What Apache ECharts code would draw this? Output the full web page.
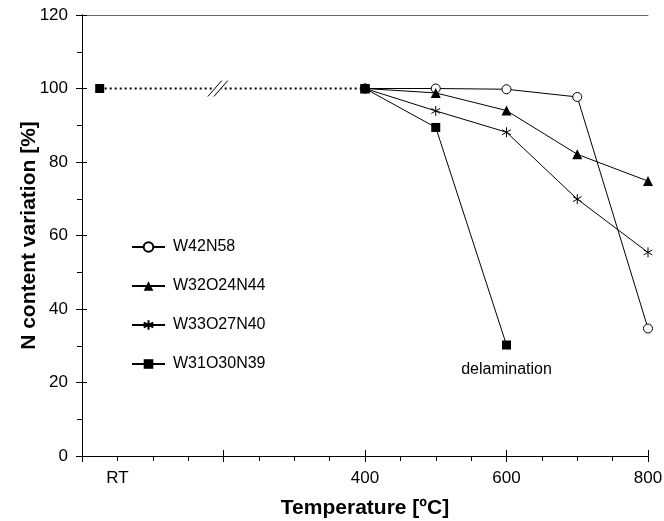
<!DOCTYPE html>
<html>
<head>
<meta charset="utf-8">
<script src="https://cdn.jsdelivr.net/npm/echarts@6/dist/echarts.min.js"></script>
<style>html,body{margin:0;padding:0;background:#fff}#c{width:664px;height:521px}</style>
</head>
<body>
<div id="c"></div>
<script>
// ---- data ----
var temps = [400, 500, 600, 700, 800];
var rtTemp = 25;
var rtValue = 100;
var w42n58 = [100, 100, 99.8, 97.7, 34.7];
var w32o24n44 = [100, 98.8, 94.0, 82.1, 74.8];
var w33o27n40 = [100, 93.9, 88.1, 69.9, 55.4];
var w31o30n39 = [100, 89.4, 30.2];
var seriesNames = ['W42N58', 'W32O24N44', 'W33O27N40', 'W31O30N39'];
var xTickLabels = {50: 'RT', 400: '400', 600: '600', 800: '800'};
var annotation = 'delamination';

var FONT = '"Liberation Sans", Arial, sans-serif';
var asteriskPath = 'path://M5,0L5,10M0.67,2.5L9.33,7.5M0.67,7.5L9.33,2.5';

function pairs(vals) { return vals.map(function (v, i) { return [temps[i], v]; }); }

var sqData = pairs(w31o30n39);
sqData[2] = {value: sqData[2], label: {show: true, formatter: annotation, position: 'bottom', distance: 12,
  color: '#000', fontSize: 16, fontFamily: FONT}};

var lineBase = {type: 'line', xAxisIndex: 0, yAxisIndex: 0, lineStyle: {color: '#000', width: 1},
  emphasis: {disabled: true}, animation: false};

var chart = echarts.init(document.getElementById('c'), null, {renderer: 'canvas'});
chart.setOption({
  animation: false,
  backgroundColor: '#fff',
  grid: {left: 82, right: 16, top: 15, bottom: 65, containLabel: false, outerBoundsMode: 'none'},
  legend: {
    data: seriesNames, orient: 'vertical', left: 131, top: 239, padding: 0,
    itemWidth: 33, itemHeight: 12, itemGap: 23,
    textStyle: {color: '#000', fontSize: 16, fontFamily: FONT, padding: [0, 0, 0, 3]},
    inactiveColor: '#000'
  },
  xAxis: [
    {type: 'value', position: 'bottom', min: 0, max: 800, interval: 200,
     axisLine: {show: true, lineStyle: {color: '#000', width: 1}},
     axisTick: {show: true, inside: false, length: 6, lineStyle: {color: '#000'}},
     minorTick: {show: true, splitNumber: 4, length: 5, lineStyle: {color: '#000'}},
     splitLine: {show: false}, minorSplitLine: {show: false},
     axisLabel: {margin: 14, color: '#000', fontSize: 17, fontFamily: FONT,
       formatter: function (v) { return (v === 400 || v === 600 || v === 800) ? xTickLabels[v] : ''; }},
     name: 'Temperature [ºC]', nameLocation: 'middle', nameGap: 42, nameMoveOverlap: false,
     nameTextStyle: {color: '#000', fontSize: 21, fontWeight: 'bold', fontFamily: FONT}},
    {type: 'value', position: 'bottom', min: 0, max: 800, interval: 200,
     axisLine: {show: false}, axisTick: {show: true, inside: true, length: 6, lineStyle: {color: '#000'}},
     axisLabel: {show: false}, splitLine: {show: false}},
    {type: 'value', position: 'bottom', min: 0, max: 800, interval: 50,
     axisLine: {show: false}, axisTick: {show: false}, splitLine: {show: false},
     axisLabel: {margin: 14, color: '#000', fontSize: 17, fontFamily: FONT,
       formatter: function (v) { return v === 50 ? xTickLabels[50] : ''; }}},
    {type: 'value', position: 'top', min: 0, max: 800,
     axisLine: {show: true, lineStyle: {color: '#666', width: 1}}, axisTick: {show: false},
     axisLabel: {show: false}, splitLine: {show: false}}
  ],
  yAxis: [
    {type: 'value', position: 'left', min: 0, max: 120, interval: 20,
     axisLine: {show: true, lineStyle: {color: '#000', width: 1}},
     axisTick: {show: true, inside: false, length: 6, lineStyle: {color: '#000'}},
     minorTick: {show: true, splitNumber: 2, length: 5, lineStyle: {color: '#000'}},
     splitLine: {show: false}, minorSplitLine: {show: false},
     axisLabel: {margin: 14, color: '#000', fontSize: 17, fontFamily: FONT},
     name: 'N content variation [%]', nameLocation: 'middle', nameGap: 42, nameMoveOverlap: false,
     nameTextStyle: {color: '#000', fontSize: 21, fontWeight: 'bold', fontFamily: FONT}},
    {type: 'value', position: 'left', min: 0, max: 120, interval: 20,
     axisLine: {show: false}, axisTick: {show: true, inside: true, length: 5, lineStyle: {color: '#000'}},
     axisLabel: {show: false}, splitLine: {show: false}},
    {type: 'value', position: 'right', min: 0, max: 120,
     axisLine: {show: true, lineStyle: {color: '#000', width: 1}}, axisTick: {show: false},
     axisLabel: {show: false}, splitLine: {show: false}}
  ],
  series: [
    Object.assign({}, lineBase, {name: seriesNames[0], data: pairs(w42n58), symbol: 'circle', symbolSize: 9,
      itemStyle: {color: '#fff', borderColor: '#000', borderWidth: 1}, z: 3}),
    Object.assign({}, lineBase, {name: seriesNames[1], data: pairs(w32o24n44), symbol: 'triangle', symbolSize: 10,
      itemStyle: {color: '#000', borderColor: '#000', borderWidth: 0}, z: 4}),
    Object.assign({}, lineBase, {name: seriesNames[2], data: pairs(w33o27n40), symbol: asteriskPath, symbolSize: 10,
      symbolKeepAspect: true,
      itemStyle: {color: 'rgba(0,0,0,0)', borderColor: '#000', borderWidth: 1}, z: 5}),
    Object.assign({}, lineBase, {name: seriesNames[3], data: sqData, symbol: 'rect', symbolSize: 9,
      itemStyle: {color: '#000', borderColor: '#000', borderWidth: 0}, z: 6}),
    Object.assign({}, lineBase, {name: 'RT-link', data: [[rtTemp, rtValue], [temps[0], w31o30n39[0]]],
      symbol: 'rect', symbolSize: 9, lineStyle: {color: '#000', width: 2, type: [2, 3]},
      itemStyle: {color: '#000'}, z: 7}),
    {type: 'custom', name: 'break', xAxisIndex: 0, yAxisIndex: 0, silent: true, z: 8,
     data: [[192, rtValue]],
     renderItem: function (params, api) {
       var c = api.coord([api.value(0), api.value(1)]);
       var mk = function (o) {
         return {type: 'line', shape: {x1: c[0] + o - 7, y1: c[1] + 8, x2: c[0] + o + 7, y2: c[1] - 8},
           style: {stroke: '#000', lineWidth: 1}};
       };
       return {type: 'group', children: [
         {type: 'rect', shape: {x: c[0] - 5, y: c[1] - 2, width: 8, height: 4}, style: {fill: '#fff'}},
         mk(-3), mk(3)]};
     }}
  ]
});
</script>
</body>
</html>
